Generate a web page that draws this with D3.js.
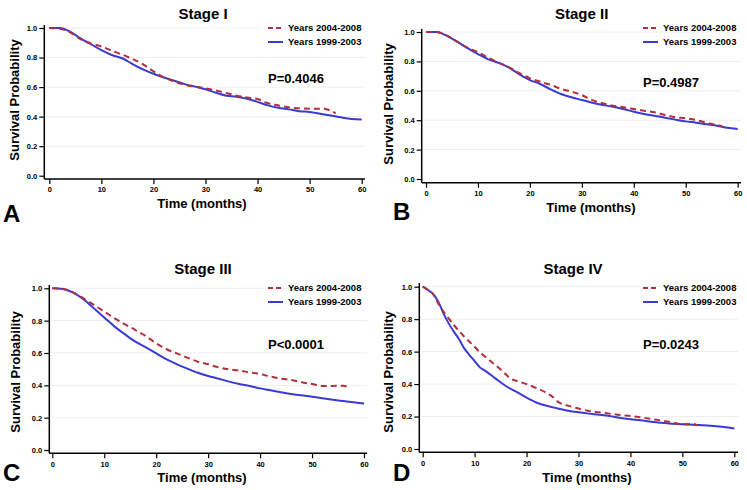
<!DOCTYPE html>
<html>
<head>
<meta charset="utf-8">
<script src="https://cdn.jsdelivr.net/npm/d3@7"></script>
<style>
  html, body { margin: 0; padding: 0; background: #fff; }
  svg { display: block; font-family: "Liberation Sans", Arial, sans-serif; font-weight: bold; }
</style>
</head>
<body>
<svg id="chart" width="747" height="490"></svg>
<script>
// ---------------- DATA ----------------
const seriesNames = ["Years 2004-2008", "Years 1999-2003"];
const panelTitles = ["Stage I", "Stage II", "Stage III", "Stage IV"];
const panelLetters = ["A", "B", "C", "D"];
const pValues = ["P=0.4046", "P=0.4987", "P<0.0001", "P=0.0243"];
const xTicks = [0, 10, 20, 30, 40, 50, 60];
const yTicks = [0, 0.2, 0.4, 0.6, 0.8, 1.0];

// Stage I
const stageI_t_recent = [0,2,4,6,8,10,12,14,16,18,20,22,24,26,28,30,32,34,36,38,40,42,44,46,48,50,52,53,55];
const stageI_recent   = [1,0.995,0.97,0.925,0.895,0.875,0.846,0.82,0.79,0.754,0.707,0.666,0.638,0.615,0.603,0.592,0.577,0.56,0.542,0.53,0.519,0.49,0.476,0.463,0.456,0.454,0.454,0.452,0.422];
const stageI_t_early  = [0,2,4,6,8,10,12,14,16,18,20,22,24,26,28,30,32,34,36,38,40,42,44,46,48,50,52,54,56,58,60];
const stageI_early    = [1,1,0.975,0.93,0.89,0.85,0.817,0.795,0.756,0.72,0.69,0.665,0.643,0.62,0.603,0.585,0.562,0.542,0.535,0.52,0.5,0.476,0.46,0.449,0.437,0.431,0.42,0.408,0.395,0.384,0.38];

// Stage II
const stageII_t_recent = [0,2,4,6,8,10,12,14,16,18,20,22,24,26,28,30,32,34,36,38,40,42,44,46,48,50,52,54,56,57];
const stageII_recent   = [1,1,0.975,0.935,0.893,0.862,0.825,0.79,0.76,0.72,0.685,0.662,0.64,0.613,0.594,0.571,0.537,0.515,0.499,0.488,0.476,0.465,0.454,0.435,0.42,0.413,0.401,0.383,0.367,0.36];
const stageII_t_early  = [0,2,4,6,8,10,12,14,16,18,20,22,24,26,28,30,32,34,36,38,40,42,44,46,48,50,52,54,56,58,60];
const stageII_early    = [1,1,0.975,0.934,0.89,0.85,0.814,0.79,0.757,0.712,0.673,0.646,0.61,0.578,0.556,0.537,0.519,0.503,0.492,0.476,0.458,0.442,0.431,0.417,0.404,0.392,0.383,0.372,0.363,0.349,0.34];

// Stage III
const stageIII_t_recent = [0,2,4,6,8,10,12,14,16,18,20,22,24,26,28,30,32,34,36,38,40,42,44,46,48,50,52,54,56,57];
const stageIII_recent   = [1,0.997,0.975,0.938,0.897,0.856,0.814,0.777,0.742,0.705,0.66,0.623,0.598,0.571,0.546,0.53,0.511,0.499,0.491,0.48,0.47,0.454,0.441,0.433,0.419,0.408,0.396,0.396,0.398,0.388];
const stageIII_t_early  = [0,2,4,6,8,10,12,14,16,18,20,22,24,26,28,30,32,34,36,38,40,42,44,46,48,50,52,54,56,58,60];
const stageIII_early    = [1,0.996,0.973,0.932,0.876,0.82,0.763,0.715,0.67,0.635,0.598,0.56,0.53,0.503,0.478,0.458,0.441,0.423,0.408,0.396,0.381,0.369,0.357,0.346,0.338,0.33,0.32,0.311,0.303,0.295,0.287];

// Stage IV
const stageIV_t_recent = [0,1,2,3,4,5,6,7,8,9,10,11,12,14,16,17,18,20,22,24,25,26,28,30,32,34,36,38,40,42,44,46,48,50,52,53];
const stageIV_recent   = [1,0.98,0.955,0.897,0.846,0.805,0.764,0.727,0.692,0.661,0.63,0.595,0.569,0.517,0.46,0.431,0.421,0.4,0.374,0.343,0.322,0.292,0.267,0.25,0.234,0.226,0.218,0.209,0.203,0.195,0.185,0.175,0.164,0.152,0.154,0.144];
const stageIV_t_early  = [0,1,2,3,4,5,6,7,8,9,10,11,12,14,16,18,20,22,24,26,28,30,32,34,36,38,40,42,44,46,48,50,52,54,56,58,60];
const stageIV_early    = [1,0.98,0.955,0.908,0.836,0.774,0.723,0.676,0.62,0.579,0.542,0.503,0.483,0.435,0.388,0.353,0.316,0.285,0.265,0.25,0.236,0.226,0.218,0.211,0.203,0.191,0.183,0.177,0.168,0.162,0.156,0.152,0.15,0.146,0.142,0.136,0.127];

// -------------- LAYOUT / STYLE ----------------
const layout = [
  { axX: 44.3, x0: 49.3, x1: 361.7, y0: 175.7, y1: 28, axY: 179, axEnd: 365, axTop: 25,
    title: [203, 14], leg: [268, 283, 288, 28, 42], p: [268, 78], letter: [3, 222], tl: [202, 203], yl: [14, 100] },
  { axX: 421.7, x0: 426, x1: 737.7, y0: 179, y1: 32, axY: 182.7, axEnd: 741, axTop: 29,
    title: [581.7, 14], leg: [643, 658, 663, 28, 42], p: [643, 82], letter: [393, 220], tl: [591, 207], yl: [388, 104] },
  { axX: 49.3, x0: 52.3, x1: 364, y0: 450, y1: 288.3, axY: 453.3, axEnd: 367, axTop: 285,
    title: [203, 269], leg: [268, 283, 288, 288, 302], p: [268, 344], letter: [3, 481], tl: [202, 477], yl: [15, 372] },
  { axX: 419.3, x0: 422.7, x1: 734.3, y0: 449, y1: 286.7, axY: 452.3, axEnd: 738, axTop: 283,
    title: [573, 269], leg: [643, 658, 663, 288, 302], p: [643, 344], letter: [393, 481], tl: [587, 477], yl: [388, 372] }
];

const colors = ["#b0303c", "#3a3ad6"];
const dashes = ["6,4", null];

const panelData = [
  [[stageI_t_recent, stageI_recent], [stageI_t_early, stageI_early]],
  [[stageII_t_recent, stageII_recent], [stageII_t_early, stageII_early]],
  [[stageIII_t_recent, stageIII_recent], [stageIII_t_early, stageIII_early]],
  [[stageIV_t_recent, stageIV_recent], [stageIV_t_early, stageIV_early]]
];

const svg = d3.select("#chart");

layout.forEach((L, i) => {
  const g = svg.append("g");
  const x = d3.scaleLinear().domain([0, 60]).range([L.x0, L.x1]);
  const y = d3.scaleLinear().domain([0, 1]).range([L.y0, L.y1]);

  // gridlines
  g.selectAll("line.grid").data(yTicks.filter(d => d > 0)).enter().append("line")
    .attr("x1", L.axX).attr("x2", L.axEnd)
    .attr("y1", d => y(d)).attr("y2", d => y(d))
    .attr("stroke", "#eeeeee").attr("stroke-width", 1);

  // y axis
  const yAxis = d3.axisLeft(y).tickValues(yTicks).tickFormat(d3.format(".1f")).tickSize(5).tickPadding(2).tickSizeOuter(0);
  const ya = g.append("g").attr("transform", `translate(${L.axX},0)`).call(yAxis);
  ya.select(".domain").remove();
  ya.selectAll(".tick line").attr("stroke", "#000").attr("stroke-width", 1.2);
  ya.selectAll(".tick text").attr("font-size", 7.5).attr("font-weight", "bold")
    .attr("font-family", '"Liberation Sans", Arial, sans-serif').attr("fill", "#000");
  g.append("line").attr("x1", L.axX).attr("x2", L.axX).attr("y1", L.axTop).attr("y2", L.axY)
    .attr("stroke", "#000").attr("stroke-width", 1.5);

  // x axis
  const xAxis = d3.axisBottom(x).tickValues(xTicks).tickFormat(d3.format("d")).tickSize(5).tickPadding(3).tickSizeOuter(0);
  const xa = g.append("g").attr("transform", `translate(0,${L.axY})`).call(xAxis);
  xa.select(".domain").remove();
  xa.selectAll(".tick line").attr("stroke", "#000").attr("stroke-width", 1.2);
  xa.selectAll(".tick text").attr("font-size", 7.5).attr("font-weight", "bold")
    .attr("font-family", '"Liberation Sans", Arial, sans-serif').attr("fill", "#000");
  g.append("line").attr("x1", L.axX).attr("x2", L.axEnd).attr("y1", L.axY).attr("y2", L.axY)
    .attr("stroke", "#000").attr("stroke-width", 1.5);

  // curves
  const line = d3.line().x(d => x(d[0])).y(d => y(d[1])).curve(d3.curveMonotoneX);
  // draw blue first, red on top
  [1, 0].forEach(s => {
    const [ts, vs] = panelData[i][s];
    const pts = ts.map((t, k) => [t, vs[k]]);
    g.append("path").datum(pts).attr("d", line)
      .attr("fill", "none").attr("stroke", colors[s]).attr("stroke-width", 2)
      .attr("stroke-dasharray", dashes[s]);
  });

  // legend
  seriesNames.forEach((name, s) => {
    const ly = L.leg[3 + s];
    g.append("line").attr("x1", L.leg[0]).attr("x2", L.leg[1]).attr("y1", ly).attr("y2", ly)
      .attr("stroke", colors[s]).attr("stroke-width", 2).attr("stroke-dasharray", s === 0 ? "5,3" : null);
    g.append("text").attr("x", L.leg[2]).attr("y", ly).attr("dy", "0.35em")
      .attr("font-size", 9.5).text(name);
  });

  // title
  g.append("text").attr("x", L.title[0]).attr("y", L.title[1]).attr("dy", "0.35em")
    .attr("text-anchor", "middle").attr("font-size", 15).text(panelTitles[i]);
  // p value
  g.append("text").attr("x", L.p[0]).attr("y", L.p[1]).attr("dy", "0.35em")
    .attr("font-size", 13).text(pValues[i]);
  // x label
  g.append("text").attr("x", L.tl[0]).attr("y", L.tl[1]).attr("dy", "0.35em")
    .attr("text-anchor", "middle").attr("font-size", 13).text("Time (months)");
  // y label
  g.append("text").attr("transform", `translate(${L.yl[0]},${L.yl[1]}) rotate(-90)`)
    .attr("dy", "0.35em").attr("text-anchor", "middle").attr("font-size", 13).text("Survival Probability");
  // panel letter
  g.append("text").attr("x", L.letter[0]).attr("y", L.letter[1])
    .attr("font-size", 24).text(panelLetters[i]);
});
</script>
</body>
</html>
